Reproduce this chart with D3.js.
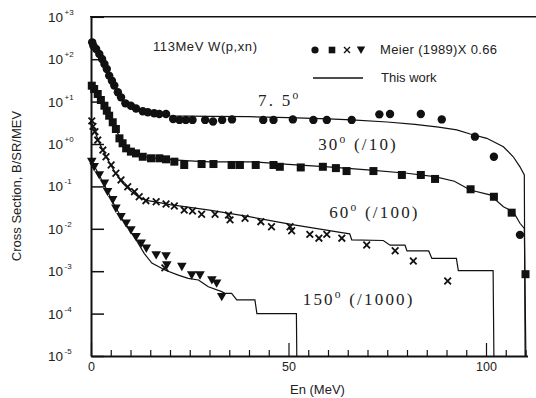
<!DOCTYPE html>
<html><head><meta charset="utf-8">
<script src="https://cdn.jsdelivr.net/npm/d3@7"></script>
<style>body{margin:0;background:#fff;} svg{display:block;}</style>
</head><body>
<svg id="c" width="536" height="398"></svg>
<script>
// ---------- DATA (plotted values, B/SR/MEV) ----------
const yTickExps = [3, 2, 1, 0, -1, -2, -3, -4, -5];
const yTickSup = ["+3", "+2", "+1", "+0", "-1", "-2", "-3", "-4", "-5"];
const xMinorTicks = [5,10,15,20,25,30,35,40,45,55,60,65,70,75,80,85,90,95,105,110];
const xMajorTicks = [0, 50, 100];

// Meier (1989) x 0.66 : 7.5 deg (circles)
const meier75 = [[0.3,250],[0.6,208],[1.3,174],[2.1,133],[2.8,101],[3.4,77],[4.0,59],[4.6,41],[5.3,31],[5.9,24],[6.8,16.6],[7.6,12.6],[8.7,9.1],[10.1,8.0],[11.4,6.9],[13.1,5.9],[14.4,5.6],[16.0,5.3],[17.3,5.1],[19.0,5.1],[20.8,3.9],[22.4,3.7],[24.0,3.7],[25.7,3.7],[28.9,3.7],[30.9,3.4],[33.2,3.7],[35.7,3.8],[43.6,3.7],[46.2,3.7],[51.1,3.8],[56.3,3.7],[59.7,3.7],[66,3.7],[73,5.0],[75.7,5.1],[83.5,5.1],[88.8,3.8],[97.2,1.49],[102,0.50],[108.6,0.0072]];
// 30 deg (/10) (squares)
const meier30 = [[0.2,23.7],[0.8,19.8],[1.7,15.1],[2.5,10.9],[3.4,8.0],[4.0,6.1],[4.6,4.65],[5.5,3.25],[6.3,2.26],[7.2,1.36],[8.0,1.04],[8.9,0.79],[10.1,0.66],[11.4,0.60],[13.1,0.50],[15.2,0.46],[17.3,0.46],[19.0,0.435],[21.1,0.383],[23.6,0.32],[28,0.337],[31,0.337],[35.6,0.32],[37.7,0.32],[41.7,0.32],[46.2,0.32],[47.8,0.29],[53.1,0.28],[58.7,0.29],[62,0.27],[64.7,0.23],[71.5,0.23],[78.7,0.186],[83.5,0.186],[87.1,0.15],[96.1,0.0855],[102,0.057],[106.5,0.024],[110,0.00085]];
// 60 deg (/100) (crosses)
const meier60 = [[0.2,3.5],[0.5,2.6],[1.0,1.95],[1.7,1.24],[3.0,0.72],[3.8,0.50],[5.1,0.32],[6.3,0.204],[7.6,0.142],[9.3,0.098],[11.0,0.075],[12.2,0.057],[13.9,0.046],[16.5,0.0435],[18.7,0.0012],[19.0,0.0385],[21.1,0.0345],[23.6,0.0277],[25.7,0.0263],[28,0.022],[31.4,0.022],[34.8,0.0211],[35.2,0.0162],[39,0.0177],[43,0.0147],[45.7,0.0112],[50.4,0.0112],[50.8,0.009],[55.4,0.0074],[57.7,0.006],[59.7,0.0074],[63.5,0.006],[69.8,0.00415],[77,0.00304],[81.6,0.00174],[90.3,0.000587]];
// 150 deg (/1000) (down triangles)
const meier150 = [[0.2,0.383],[0.8,0.29],[2.1,0.186],[3.4,0.118],[4.2,0.075],[5.5,0.048],[6.3,0.0304],[7.6,0.0193],[8.9,0.0135],[10.1,0.0094],[11.4,0.0065],[12.7,0.00455],[14,0.00347],[16.5,0.00241],[19,0.00228],[19.2,0.0014],[23,0.00128],[25.5,0.00081],[27.6,0.00081],[30.6,0.00062],[31.8,0.00052],[33.1,0.00025]];

// This work (lines)
const calc75 = [[0,250],[2,135],[4,60],[6,23],[8,11.5],[10,7.8],[12,6.2],[15,5.2],[20,4.6],[30,4.5],[40,4.4],[50,4.2],[60,3.9],[66,3.7],[75,3.3],[82,2.9],[88,2.5],[92.6,2.15],[96,1.72],[100.2,1.36],[104.4,0.86],[106.9,0.50],[108.6,0.29],[109.7,0.186],[109.9,1e-5]];
const calc30 = [[0,26],[2,13.5],[4,6.3],[6,2.5],[8,1.05],[10,0.68],[12,0.54],[15,0.47],[20,0.43],[25,0.40],[30,0.38],[41,0.38],[50,0.33],[60,0.29],[70,0.245],[80,0.204],[87,0.17],[92,0.132],[96,0.082],[101,0.063],[104.4,0.033],[106.9,0.0253],[108.6,0.0135],[109.7,0.0102],[110.1,1e-5]];
const calc60 = [[0,3.5],[2,1.12],[4,0.47],[6,0.22],[8,0.12],[10,0.079],[12,0.056],[14,0.047],[17,0.042],[20,0.037],[25,0.032],[30,0.0275],[40,0.0193],[51,0.0126],[63.5,0.0081],[65.5,0.0076],[66,0.0055],[74,0.0053],[75.7,0.0041],[79.5,0.0041],[80,0.0030],[85.5,0.0030],[86.3,0.0020],[92.5,0.0020],[93,0.00103],[101.8,0.00103],[102,1e-5]];
const calc150 = [[0,0.42],[2,0.19],[4,0.083],[6,0.035],[8,0.0166],[10,0.0087],[11.4,0.0055],[13.5,0.0026],[15.4,0.00155],[18.7,0.00107],[22.1,0.00081],[24.6,0.00068],[27.2,0.00062],[28.4,0.00052],[29.7,0.00043],[33.1,0.00033],[33.9,0.0003],[35.6,0.0003],[36.9,0.00021],[41.5,0.00021],[42,0.0001],[52,0.0001],[52.1,1e-5]];

const curveLabels = [
  {main: "7. 5", rest: "", E: 42.3, v: 8.0},
  {main: "30", rest: " (/10)", E: 57.5, v: 0.72},
  {main: "60", rest: " (/100)", E: 60.3, v: 0.0175},
  {main: "150", rest: " (/1000)", E: 53.6, v: 0.000162}
];
const titleText = "113MeV W(p,xn)";
const legendMeier = "Meier (1989)X 0.66";
const legendCalc = "This work";
const yTitle = "Cross Section, B/SR/MEV";
const xTitle = "En (MeV)";

// ---------- DRAW ----------
const svg = d3.select('#c');
svg.append('rect').attr('width',536).attr('height',398).attr('fill','#fff');
const x = d3.scaleLinear().domain([0, 110.5]).range([91, 91 + 110.5 * 3.95]);
const y = d3.scaleLog().domain([1e-5, 1e3]).range([356, 16.8]);
const ink = '#111';
const txt = '#222';

// top frame line
svg.append('line').attr('x1', 90).attr('x2', 536).attr('y1', y(1e3)).attr('y2', y(1e3))
  .attr('stroke', ink).attr('stroke-width', 1.5);

// Y axis
const gy = svg.append('g').attr('transform', 'translate(91,0)')
  .call(d3.axisLeft(y).tickValues(yTickExps.map(e => Math.pow(10, e))).tickSize(-13).tickSizeOuter(0).tickFormat(''));
gy.select('.domain').attr('stroke', ink).attr('stroke-width', 2);
gy.selectAll('.tick line').attr('stroke', ink).attr('stroke-width', 1.5);
yTickExps.forEach((e, i) => {
  const yy = y(Math.pow(10, e));
  svg.append('text').attr('x', 63).attr('y', yy + 5).attr('text-anchor', 'end')
    .attr('font-family', 'Liberation Sans, Arial, sans-serif').attr('font-size', 13.5).attr('fill', txt).text('10');
  svg.append('text').attr('x', 64.5).attr('y', yy - 2).attr('font-family', 'Liberation Sans, Arial, sans-serif')
    .attr('font-size', 8).attr('fill', txt).text(yTickSup[i]);
});

// X axis (minor and major ticks)
const gx = svg.append('g').attr('transform', 'translate(0,356)')
  .call(d3.axisBottom(x).tickValues(xMinorTicks).tickSize(-6).tickSizeOuter(0).tickFormat(''));
gx.select('.domain').attr('stroke', ink).attr('stroke-width', 2);
gx.selectAll('.tick line').attr('stroke', ink).attr('stroke-width', 1.2);
const gx2 = svg.append('g').attr('transform', 'translate(0,356)')
  .call(d3.axisBottom(x).tickValues(xMajorTicks).tickSize(-13).tickSizeOuter(0).tickFormat(d3.format('d')));
gx2.select('.domain').remove();
gx2.selectAll('.tick line').attr('stroke', ink).attr('stroke-width', 1.2);
gx2.selectAll('.tick text').attr('font-family', 'Liberation Sans, Arial, sans-serif').attr('font-size', 12.5)
  .attr('fill', txt).attr('dy', '0').attr('y', 15);

// Axis titles
svg.append('text').attr('transform', 'translate(20.5,186) rotate(-90)').attr('text-anchor', 'middle')
  .attr('font-family', 'Liberation Sans, Arial, sans-serif').attr('font-size', 13).attr('fill', txt).text(yTitle);
svg.append('text').attr('x', 290).attr('y', 394)
  .attr('font-family', 'Liberation Sans, Arial, sans-serif').attr('font-size', 13).attr('fill', txt).text(xTitle);

// Lines
const line = d3.line().x(d => x(d[0])).y(d => y(d[1]));
[calc75, calc30, calc60, calc150].forEach(s => {
  svg.append('path').attr('d', line(s)).attr('fill', 'none').attr('stroke', ink).attr('stroke-width', 1.2);
});

// Markers
const mk = {
  circle: g => g.append('circle').attr('r', 4.2),
  square: g => g.append('rect').attr('x', -4).attr('y', -4).attr('width', 8).attr('height', 8),
  cross: g => g.append('path').attr('d', 'M-3.3,-3.3L3.3,3.3M-3.3,3.3L3.3,-3.3').attr('stroke', ink).attr('stroke-width', 1.8).attr('fill', 'none'),
  tri: g => g.append('path').attr('d', 'M-4.8,-3.8L4.8,-3.8L0,4.6Z')
};
function drawMarkers(data, kind) {
  const g = svg.append('g').attr('fill', ink);
  g.selectAll('g').data(data).join('g')
    .attr('transform', d => `translate(${x(d[0])},${y(d[1])})`)
    .each(function () { mk[kind](d3.select(this)); });
}
drawMarkers(meier75, 'circle');
drawMarkers(meier30, 'square');
drawMarkers(meier60, 'cross');
drawMarkers(meier150, 'tri');

// Curve labels (serif)
curveLabels.forEach(l => {
  const t = svg.append('text').attr('x', x(l.E)).attr('y', y(l.v))
    .attr('font-family', 'Liberation Serif, Times New Roman, serif').attr('font-size', 17)
    .attr('letter-spacing', 2.2).attr('fill', txt);
  t.append('tspan').text(l.main);
  t.append('tspan').attr('dy', -7).attr('font-size', 11.5).text('o');
  if (l.rest) t.append('tspan').attr('dy', 7).text(l.rest);
});

// Title
svg.append('text').attr('x', 153).attr('y', 51).attr('font-family', 'Liberation Sans, Arial, sans-serif')
  .attr('font-size', 13).attr('fill', txt).attr('textLength', 104).attr('lengthAdjust', 'spacing').text(titleText);

// Legend
const lg = svg.append('g');
[[315, 'circle'], [332, 'square'], [347, 'cross'], [361, 'tri']].forEach(([lx, k]) => {
  const g = lg.append('g').attr('transform', `translate(${lx},50)`).attr('fill', ink);
  const s = mk[k](g);
  if (k === 'circle') s.attr('r', 3.6);
  if (k === 'square') s.attr('x', -3.3).attr('y', -3.3).attr('width', 6.6).attr('height', 6.6);
  if (k === 'cross') s.attr('d', 'M-3,-3L3,3M-3,3L3,-3').attr('stroke-width', 1.4);
  if (k === 'tri') s.attr('d', 'M-4.2,-3.5L4.2,-3.5L0,4Z');
});
lg.append('text').attr('x', 380).attr('y', 54).attr('font-family', 'Liberation Sans, Arial, sans-serif')
  .attr('font-size', 13).attr('fill', txt).attr('textLength', 117).attr('lengthAdjust', 'spacing').text(legendMeier);
lg.append('line').attr('x1', 313).attr('x2', 363).attr('y1', 78).attr('y2', 78).attr('stroke', ink).attr('stroke-width', 1.3);
lg.append('text').attr('x', 381).attr('y', 82).attr('font-family', 'Liberation Sans, Arial, sans-serif')
  .attr('font-size', 13).attr('fill', txt).text(legendCalc);
</script>
</body></html>
